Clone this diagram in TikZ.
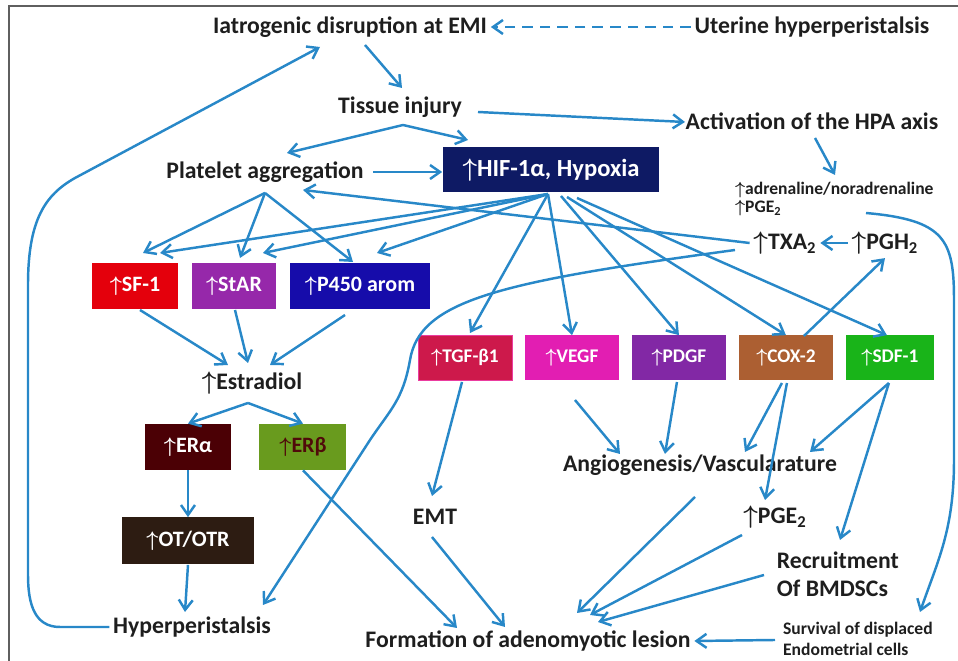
\documentclass[tikz,border=0pt]{standalone}
\usepackage{amsmath}
\usepackage{fontspec}
\setmainfont{Carlito}
\usepackage{tikz}
\usetikzlibrary{arrows.meta,positioning}

\definecolor{flowblue}{RGB}{40,136,200}
\definecolor{textgray}{RGB}{30,30,30}
\definecolor{framegray}{RGB}{95,95,95}
\definecolor{hifnavy}{RGB}{14,26,100}
\definecolor{sfred}{RGB}{228,0,12}
\definecolor{starpurple}{RGB}{150,40,170}
\definecolor{p450blue}{RGB}{22,12,170}
\definecolor{tgfred}{RGB}{205,25,75}
\definecolor{tgfedge}{RGB}{235,60,160}
\definecolor{vegfpink}{RGB}{226,30,178}
\definecolor{pdgfpurple}{RGB}{130,40,165}
\definecolor{coxbrown}{RGB}{172,95,50}
\definecolor{sdfgreen}{RGB}{25,180,25}
\definecolor{eramaroon}{RGB}{75,0,5}
\definecolor{erbgreen}{RGB}{105,155,30}
\definecolor{erbtext}{RGB}{80,10,10}
\definecolor{ototrbrown}{RGB}{45,28,18}

\newcommand{\upar}{{\boldmath$\uparrow$}}

\begin{document}
\begin{tikzpicture}[
    x=0.02cm, y=-0.02cm,
    node distance=2cm,
    >={Straight Barb[length=2mm,width=2.8mm]},
    term/.style={
		text=textgray,
		inner sep=2pt,
		font=\bfseries\fontsize{13.5}{16}\selectfont
	},
	note/.style={
		text=textgray,
		inner sep=1pt,
		align=left,
		anchor=west,
		font=\bfseries\fontsize{10}{11}\selectfont
	},
	gene/.style={
		rectangle,
		text=white,
		text centered,
		minimum height=0.92cm,
		font=\bfseries\fontsize{12.5}{15}\selectfont
	},
	factor/.style={
		rectangle,
		text=white,
		text centered,
		minimum width=1.88cm,
		minimum height=0.9cm,
		font=\bfseries\fontsize{11}{13}\selectfont
	},
	flow/.style={
		draw=flowblue,
		line width=1.4pt,
		->
	}
  ]

\useasboundingbox (0,0) rectangle (958,661);
\draw [framegray, line width=0.8pt] (9,661) -- (9,6) -- (958,6);

% // top part
\node [term] (iatro) at (350,27) {Iatrogenic disruption at EMI};
\node [term] (uterine) at (812,27) {Uterine hyperperistalsis};
\node [term] (tissue) at (400,107) {Tissue injury};
\node [term] (hpa) at (812,121) {Activation of the HPA axis};
\node [term] (platelet) at (265,172) {Platelet aggregation};
\node [gene, fill=hifnavy, minimum width=4.34cm, minimum height=0.9cm,
  font=\bfseries\fontsize{14}{16}\selectfont] (hif) at (551,170) {\upar HIF-1α, Hypoxia};
\node [note, font=\bfseries\fontsize{10}{10.5}\selectfont] (adren) at (733,199)
 {\upar adrenaline/noradrenaline\\\upar PGE\textsubscript{2}};
\node [term] (txa) at (785,243) {\upar TXA\textsubscript{2}};
\node [term] (pgh) at (885,243) {\upar PGH\textsubscript{2}};

% // steroid side
\node [gene, fill=sfred, minimum width=1.72cm] (sf1) at (135,286) {\upar SF-1};
\node [gene, fill=starpurple, minimum width=1.7cm] (star) at (234,286) {\upar StAR};
\node [gene, fill=p450blue, minimum width=2.8cm] (p450) at (360,286) {\upar P450 arom};
\node [term] (estradiol) at (252,383) {\upar Estradiol};
\node [gene, fill=eramaroon, minimum width=1.74cm] (era) at (188,447) {\upar ERα};
\node [gene, fill=erbgreen, text=erbtext, minimum width=1.74cm, right of=era, xshift=0.3cm] (erb) {\upar ERβ};
\node [gene, fill=ototrbrown, minimum width=2.64cm, minimum height=0.94cm, below of=era, yshift=0.12cm] (ototr) {\upar OT/OTR};
\node [term] (hyper) at (192,627) {Hyperperistalsis};

% // growth factors
\node [factor, fill=tgfred, draw=tgfedge] (tgf) at (465,358) {\upar TGF-β1};
\node [factor, fill=vegfpink, right of=tgf, xshift=0.14cm] (vegf) {\upar VEGF};
\node [factor, fill=pdgfpurple, right of=vegf, xshift=0.14cm] (pdgf) {\upar PDGF};
\node [factor, fill=coxbrown, right of=pdgf, xshift=0.14cm] (cox) {\upar COX-2};
\node [factor, fill=sdfgreen, minimum width=1.76cm, right of=cox, xshift=0.08cm] (sdf) {\upar SDF-1};

% // bottom part
\node [term] (emt) at (435,517) {EMT};
\node [term] (angio) at (700,465) {Angiogenesis/Vascularature};
\node [term] (pge) at (775,517) {\upar PGE\textsubscript{2}};
\node [term, align=left, anchor=west, font=\bfseries\fontsize{13.5}{16}\selectfont] (recruit) at (773,574) {Recruitment\\Of BMDSCs};
\node [note, font=\bfseries\fontsize{10}{11.5}\selectfont] (survival) at (781,639) {Survival of displaced\\Endometrial cells};
\node [term] (formation) at (528,641) {Formation of adenomyotic lesion};

% // arrows top
\draw [flow, dash pattern=on 6pt off 4pt] (uterine.west) -- (iatro.east);
\draw [flow] ([shift={(15,18)}]iatro.center) -- ([shift={(2,-19)}]tissue.center);
\draw [flow] ([shift={(3,18)}]tissue.center) -- ([shift={(22,-19)}]platelet.center);
\draw [flow] ([shift={(3,18)}]tissue.center) -- ([shift={(-83,-30)}]hif.center);
\draw [flow] ([shift={(78,5)}]tissue.center) -- ([shift={(-127,1)}]hpa.center);
\draw [flow] ([shift={(3,17)}]hpa.center) -- ([shift={(102,-24)}]adren.west);
\draw [flow, shorten <=0.12cm] (platelet.east) -- (platelet.east -| hif.west);
\draw [flow] (pgh.west) -- (txa.east);
\draw [flow] (txa.west) -- ([shift={(38,18)}]platelet.center);
\draw [flow] ([shift={(-50,7)}]txa.center) .. controls (500,282) and (420,300) .. (410,360)
  .. controls (403,400) and (390,410) .. (370,440) -- ([shift={(71,-22)}]hyper.center);
\draw [flow] ([shift={(133,14)}]adren.west) .. controls (945,220) and (954,240) .. (954,300)
  -- (954,460) .. controls (954,530) and (938,560) .. ([shift={(139,-27)}]survival.west);

% platelet fan
\draw [flow] ([shift={(0,21)}]platelet.center) -- ([shift={(8,-33)}]sf1.center);
\draw [flow] ([shift={(0,21)}]platelet.center) -- ([shift={(6,-28)}]star.center);
\draw [flow] ([shift={(0,21)}]platelet.center) -- ([shift={(-7,-24)}]p450.center);

% hif fan
\draw [flow] ([shift={(-3,24)}]hif.center) -- ([shift={(25,-33)}]sf1.center);
\draw [flow] ([shift={(-3,24)}]hif.center) -- ([shift={(29,-33)}]star.center);
\draw [flow] ([shift={(-3,24)}]hif.center) -- ([shift={(17,-33)}]p450.center);
\draw [flow] ([shift={(-3,24)}]hif.center) -- ([shift={(5,-25)}]tgf.center);
\draw [flow] ([shift={(-3,24)}]hif.center) -- (vegf.north);
\draw [flow] ([shift={(10,26)}]hif.center) -- (pdgf.north);
\draw [flow] ([shift={(16,27)}]hif.center) -- (cox.north);
\draw [flow] ([shift={(26,28)}]hif.center) -- ([shift={(-3,0)}]sdf.north);
\draw [flow] ([shift={(18,-22)}]cox.center) -- (pgh.south);

% // arrows left
\draw [flow] ([shift={(5,24)}]sf1.center) -- ([shift={(-24,-18)}]estradiol.center);
\draw [flow] ([shift={(1,24)}]star.center) -- ([shift={(-4,-20)}]estradiol.center);
\draw [flow] ([shift={(-15,29)}]p450.center) -- ([shift={(18,-18)}]estradiol.center);
\draw [flow] ([shift={(-4,20)}]estradiol.center) -- (era.north);
\draw [flow] ([shift={(-4,20)}]estradiol.center) -- (erb.north);
\draw [flow] (era.south) -- (ototr.north);
\draw [flow] (ototr.south) -- ([shift={(-7,-15)}]hyper.center);
\draw [flow] (hyper.west) -- (60,627) .. controls (35,627) and (28,605) .. (28,575)
  -- (28,285) .. controls (28,220) and (45,195) .. (75,178) -- ([shift={(-30,20)}]iatro.center);
\draw [flow] (erb.south) -- ([shift={(-71,-13)}]formation.center);

% // arrows right
\draw [flow] ([shift={(-3,24)}]tgf.center) -- ([shift={(-3,-21)}]emt.center);
\draw [flow] ([shift={(-3,20)}]emt.center) -- ([shift={(-23,-14)}]formation.center);
\draw [flow] ([shift={(3,42)}]vegf.center) -- ([shift={(-80,-11)}]angio.center);
\draw [flow] ([shift={(-2,24)}]pdgf.center) -- ([shift={(-35,-11)}]angio.center);
\draw [flow] ([shift={(-4,25)}]cox.center) -- ([shift={(45,-13)}]angio.center);
\draw [flow] ([shift={(1,25)}]cox.center) -- ([shift={(-10,-17)}]pge.center);
\draw [flow] ([shift={(-1,25)}]sdf.center) -- ([shift={(110,-13)}]angio.center);
\draw [flow] ([shift={(-1,25)}]sdf.center) -- ([shift={(67,-34)}]recruit.west);
\draw [flow] ([shift={(-5,32)}]angio.center) -- ([shift={(49,-28)}]formation.center);
\draw [flow] ([shift={(-33,18)}]pge.center) -- ([shift={(62,-26)}]formation.center);
\draw [flow] ([shift={(-9,1)}]recruit.west) -- ([shift={(70,-19)}]formation.center);
\draw [flow] ([shift={(-6,1)}]survival.west) -- (formation.east);

\end{tikzpicture}
\end{document}
